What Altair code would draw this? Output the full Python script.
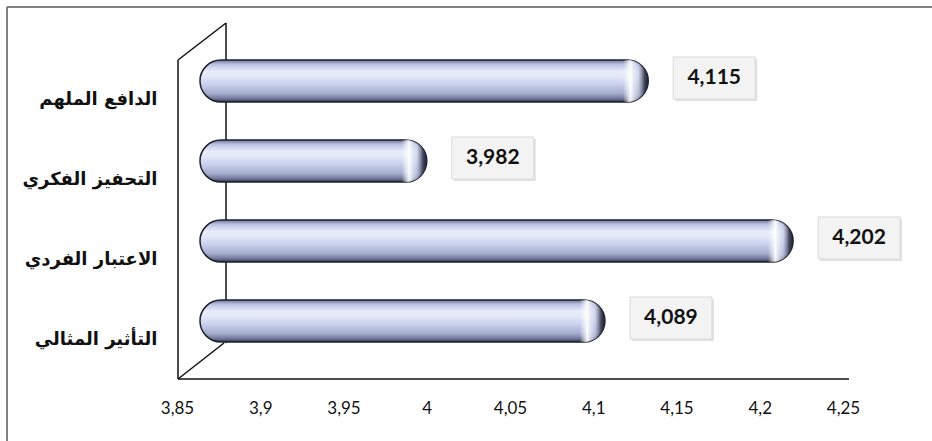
import altair as alt
import pandas as pd

categories = ["الدافع الملهم", "التحفيز الفكري", "الاعتبار الفردي", "التأثير المثالي"]
values = [4.115, 3.982, 4.202, 4.089]
x_ticks = [3.85, 3.9, 3.95, 4.0, 4.05, 4.1, 4.15, 4.2, 4.25]
x_min, x_max = 3.85, 4.25

df = pd.DataFrame({"cat": categories, "val": values, "base": [x_min] * len(values)})

W, H = 666, 356

xscale = alt.Scale(domain=[x_min, x_max], nice=False, zero=False)
yscale = alt.Scale(domain=categories, paddingInner=0.475, paddingOuter=0.4625)

base = alt.Chart(df).transform_calculate(
    label="replace(format(datum.val, '.3f'), '.', ',')"
)

x_axis = alt.Axis(
    values=x_ticks, domain=False, ticks=False, grid=False, title=None,
    labelExpr="replace(format(datum.value, '~g'), '.', ',')",
    labelFont="Lato", labelFontSize=17, labelColor="#111", labelPadding=21,
    labelFlush=False, labelOverlap=False, labelBound=False,
)
y_axis = alt.Axis(
    domain=False, ticks=False, grid=False, title=None,
    labelFont="DejaVu Sans", labelFontWeight="bold", labelFontSize=18,
    labelColor="#111", labelPadding=20, labelOffset=19, labelLimit=200,
)

one = alt.Chart(pd.DataFrame({"k": [0]}))

# outer picture frame (top and left)
frame_top = one.mark_rule(color="#808080", strokeWidth=2).encode(
    x=alt.value(-170), x2=alt.value(W + 89), y=alt.value(-16))
frame_left = one.mark_rule(color="#808080", strokeWidth=2).encode(
    x=alt.value(-170), y=alt.value(-16), y2=alt.value(H + 62))

# 3D wall lines
wall_back = one.mark_rule(color="#111", strokeWidth=1.5).encode(
    x=alt.value(49), y=alt.value(0), y2=alt.value(320))
wall_front = one.mark_rule(color="#111", strokeWidth=1.5).encode(
    x=alt.value(1), y=alt.value(37), y2=alt.value(H))
diag_top = one.mark_rule(color="#111", strokeWidth=1.5).encode(
    x=alt.value(1), x2=alt.value(49), y=alt.value(37), y2=alt.value(0))
diag_bot = one.mark_rule(color="#111", strokeWidth=1.5).encode(
    x=alt.value(1), x2=alt.value(47), y=alt.value(H), y2=alt.value(320))
axis_line = one.mark_rule(color="#111", strokeWidth=1.5).encode(
    x=alt.value(1), x2=alt.value(W + 6), y=alt.value(H))

bar_grad = alt.Gradient(
    gradient="linear", x1=0, x2=0, y1=0, y2=1,
    stops=[
        alt.GradientStop(offset=0, color="#6d7390"),
        alt.GradientStop(offset=0.1, color="#b9c1e2"),
        alt.GradientStop(offset=0.28, color="#eaeefa"),
        alt.GradientStop(offset=0.42, color="#e0e5f6"),
        alt.GradientStop(offset=0.6, color="#c5cdea"),
        alt.GradientStop(offset=0.8, color="#a4accd"),
        alt.GradientStop(offset=0.93, color="#6c7292"),
        alt.GradientStop(offset=1, color="#2a2e44"),
    ],
)

bars = base.mark_bar(
    cornerRadius=21, color=bar_grad, stroke="#1c2030", strokeWidth=1.5,
    xOffset=23, x2Offset=30,
).encode(
    x=alt.X("base:Q", scale=xscale, axis=x_axis),
    x2="val:Q",
    y=alt.Y("cat:N", scale=yscale, sort=categories, axis=y_axis),
)

cap_grad = alt.Gradient(
    gradient="linear", x1=0, x2=1, y1=0, y2=0,
    stops=[
        alt.GradientStop(offset=0, color="rgba(255,255,255,0)"),
        alt.GradientStop(offset=0.4, color="rgba(255,255,255,0)"),
        alt.GradientStop(offset=0.58, color="rgba(255,255,255,0.95)"),
        alt.GradientStop(offset=0.76, color="rgba(200,206,230,0.6)"),
        alt.GradientStop(offset=0.91, color="rgba(50,54,78,0.9)"),
        alt.GradientStop(offset=1, color="rgba(28,32,48,1)"),
    ],
)
caps = base.mark_bar(
    cornerRadius=21, color=cap_grad, xOffset=-12, x2Offset=30,
).encode(
    x=alt.X("val:Q", scale=xscale),
    x2="val:Q",
    y=alt.Y("cat:N", scale=yscale, sort=categories),
)

box_shadow = base.mark_rect(
    color="#e2e2e2", xOffset=57, x2Offset=139, yOffset=-1, y2Offset=-1,
).encode(
    x=alt.X("val:Q", scale=xscale), x2="val:Q",
    y=alt.Y("cat:N", scale=yscale, sort=categories),
)
boxes = base.mark_rect(
    color="#f3f3f3", stroke="#dadada", strokeWidth=1,
    xOffset=55, x2Offset=137, yOffset=-3, y2Offset=-3,
).encode(
    x=alt.X("val:Q", scale=xscale), x2="val:Q",
    y=alt.Y("cat:N", scale=yscale, sort=categories),
)
labels = base.mark_text(
    font="Lato", fontWeight="bold", fontSize=21, color="#111",
    dx=96, dy=-3, align="center", baseline="middle",
).encode(
    x=alt.X("val:Q", scale=xscale),
    y=alt.Y("cat:N", scale=yscale, sort=categories),
    text="label:N",
)

chart = alt.layer(
    frame_top, frame_left, wall_back, wall_front, diag_top, diag_bot, axis_line,
    bars, caps, box_shadow, boxes, labels,
).properties(
    width=W, height=H,
    autosize=alt.AutoSizeParams(type="none"),
    padding={"left": 177, "top": 23, "right": 89, "bottom": 62},
    background="white",
).configure_view(stroke=None)

chart.save("out.html", embed_options={"renderer": "svg", "actions": False})
